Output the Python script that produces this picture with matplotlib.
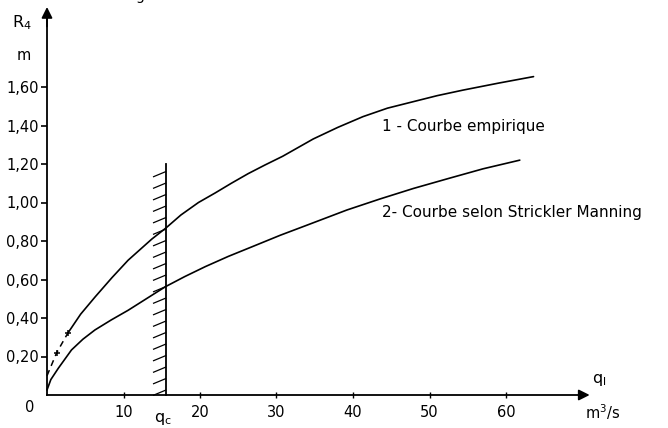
import matplotlib
matplotlib.use("Agg")
import matplotlib.pyplot as plt

# ---- data ----
emp_dash_q = [0.0, 1.27, 2.7]
emp_dash_R = [0.10, 0.22, 0.32]
emp_q = [2.7, 4.4, 6.3, 8.5, 10.6, 13.7, 15.5, 17.5, 19.8, 22.0, 24.1, 26.3, 28.5, 30.8, 34.8,
         38.0, 41.3, 44.5, 47.9, 51.0, 54.4, 59.0, 63.6]
emp_R = [0.32, 0.42, 0.51, 0.61, 0.70, 0.81, 0.866, 0.935, 1.00, 1.05, 1.10, 1.15, 1.195, 1.24, 1.33,
         1.39, 1.446, 1.49, 1.524, 1.555, 1.584, 1.62, 1.654]
sm_q = [0.0, 0.5, 1.48, 3.2, 4.7, 6.27, 8.4, 10.6, 14.1, 15.5, 18.0, 20.7, 23.7, 26.8, 30.5, 33.7,
        39.2, 43.5, 47.9, 52.5, 57.0, 61.8]
sm_R = [0.026, 0.08, 0.139, 0.234, 0.29, 0.338, 0.39, 0.44, 0.528, 0.563, 0.615, 0.667, 0.72, 0.77, 0.83, 0.878,
        0.961, 1.018, 1.073, 1.125, 1.175, 1.22]
q_crit = 15.5
hatch_top = 1.20
x_ticks = [10, 20, 30, 40, 50, 60]
y_ticks = [0.2, 0.4, 0.6, 0.8, 1.0, 1.2, 1.4, 1.6]
y_labels = ["0,20", "0,40", "0,60", "0,80", "1,00", "1,20", "1,40", "1,60"]
label1 = "1 - Courbe empirique"
label2 = "2- Courbe selon Strickler Manning"

plt.rcParams['font.family'] = ['DejaVu Sans']
plt.rcParams['mathtext.fontset'] = 'dejavusans'

W, H = 668, 428
fig = plt.figure(figsize=(W / 100, H / 100), dpi=100)
ax = fig.add_axes([0, 0, 1, 1])
# pixel mapping: x = 47 + q*7.65 ; y = 395 - R*192.5
sx, sy = 7.65, 192.5
ax.set_xlim(-47 / sx, (W - 47) / sx)
ax.set_ylim(-(H - 395) / sy, 395 / sy)

for s in ['top', 'right']:
    ax.spines[s].set_visible(False)
ax.spines['left'].set_position(('data', 0))
ax.spines['bottom'].set_position(('data', 0))
ax.spines['left'].set_bounds(0, 1.98)
ax.spines['bottom'].set_bounds(0, 70.5)
ax.spines['left'].set_linewidth(1.3)
ax.spines['bottom'].set_linewidth(1.3)

ax.set_xticks(x_ticks)
ax.set_xticklabels([str(v) for v in x_ticks], fontsize=10.5)
ax.set_yticks(y_ticks)
ax.set_yticklabels(y_labels, fontsize=10.5)
ax.tick_params(axis='x', direction='inout', length=4, width=1, pad=5)
ax.tick_params(axis='y', direction='out', length=4, width=1.2, pad=2)

# arrow heads
ax.annotate('', xy=(0, 2.03), xytext=(0, 1.9),
            arrowprops=dict(arrowstyle='-|>', lw=1.3, color='k', mutation_scale=16))
ax.annotate('', xy=(71.3, 0), xytext=(69.5, 0),
            arrowprops=dict(arrowstyle='-|>', lw=1.3, color='k', mutation_scale=16))

# curves
ax.plot(emp_dash_q, emp_dash_R, color='k', lw=1.1, ls=(0, (4, 3)))
ax.plot(emp_dash_q[1:], emp_dash_R[1:], ls='none', marker='+', ms=5, mew=1.1, color='k')
ax.plot(emp_q, emp_R, color='k', lw=1.2, solid_capstyle='round', solid_joinstyle='round')
ax.plot(sm_q, sm_R, color='k', lw=1.2, solid_capstyle='round', solid_joinstyle='round')

# critical discharge line with hatching
ax.plot([q_crit, q_crit], [0, hatch_top], color='k', lw=1.3)
hw, hr, step = 12 / sx, 5 / sy, 11.5 / sy
r = 0.025
while r < hatch_top - 0.02:
    ax.plot([q_crit - hw, q_crit], [r - hr, r], color='k', lw=0.9)
    r += step

# texts
ax.text((12 - 47) / sx, (395 - 23) / sy, 'R$_4$', fontsize=11.5, ha='left', va='center')
ax.text((24 - 47) / sx, (395 - 56) / sy, 'm', fontsize=10.5, ha='center', va='center')
ax.text((30 - 47) / sx, (395 - 408) / sy, '0', fontsize=10.5, ha='center', va='center')
ax.text((163 - 47) / sx, (395 - 419) / sy, 'q$_\\mathrm{c}$', fontsize=11.5, ha='center', va='center')
ax.text((599 - 47) / sx, (395 - 380) / sy, 'q$_\\mathrm{l}$', fontsize=11.5, ha='center', va='center')
ax.text((603 - 47) / sx, (395 - 412) / sy, 'm$^3$/s', fontsize=10.5, ha='center', va='center')
ax.text((382 - 47) / sx, (395 - 127) / sy, label1, fontsize=11, ha='left', va='center')
ax.text((382 - 47) / sx, (395 - 212) / sy, label2, fontsize=11, ha='left', va='center')
ax.text((140 - 47) / sx, (395 + 4) / sy, 'g', fontsize=10, ha='center', va='center')

fig.savefig('out.png', dpi=100)
